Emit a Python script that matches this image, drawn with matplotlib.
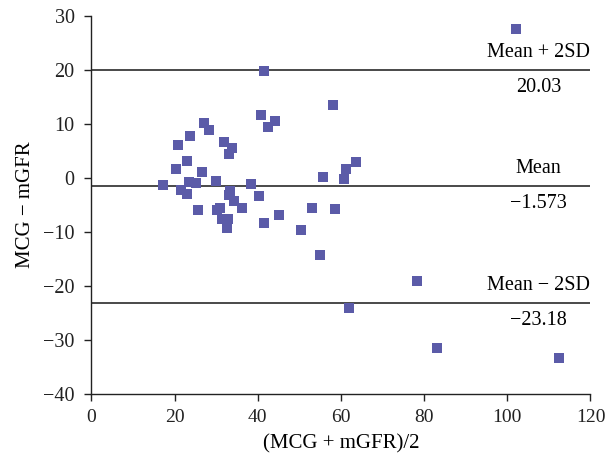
import matplotlib
matplotlib.use("Agg")
import matplotlib.pyplot as plt

mean_vals = [102.1, 41.6, 58.1, 40.9, 44.2, 42.5, 27.0, 28.2, 23.6, 20.8,
             31.8, 33.7, 33.0, 22.9, 63.6, 61.3, 20.3, 26.5, 55.7, 60.7,
             17.2, 23.4, 25.1, 29.9, 38.5, 21.5, 22.9, 33.4, 33.1, 40.4,
             34.4, 36.3, 25.6, 30.1, 30.9, 53.1, 58.6, 45.2, 31.5, 32.9,
             32.7, 41.6, 50.4, 55.0, 78.2, 62.0, 83.0, 112.4]
diff_vals = [27.5, 19.7, 13.4, 11.6, 10.5, 9.4, 10.1, 8.8, 7.7, 6.0,
             6.6, 5.6, 4.5, 3.2, 3.0, 1.7, 1.6, 1.0, 0.1, -0.3,
             -1.4, -0.8, -1.0, -0.6, -1.2, -2.3, -2.9, -2.4, -3.1, -3.3,
             -4.3, -5.5, -5.9, -5.9, -5.5, -5.5, -5.7, -6.8, -7.6, -7.6,
             -9.2, -8.4, -9.7, -14.2, -19.1, -24.0, -31.4, -33.3]

line_values = [20.03, -1.573, -23.18]
line_names = ["Mean + 2SD", "Mean", "Mean \u2212 2SD"]
line_value_texts = ["20.03", "\u22121.573", "\u221223.18"]

x_ticks = [0, 20, 40, 60, 80, 100, 120]
y_ticks = [-40, -30, -20, -10, 0, 10, 20, 30]

plt.rcParams['font.family'] = ['Liberation Serif', 'DejaVu Serif']

fig = plt.figure(figsize=(6.05, 4.63), dpi=100)
ax = fig.add_axes([0.151, 0.149, 0.825, 0.817])

for v in line_values:
    ax.axhline(v, color='#3a3a3a', lw=1.3, zorder=1)

ax.scatter(mean_vals, diff_vals, marker='s', s=60, color='#5b5ba8',
           linewidths=0, zorder=3)

for v, name, vt in zip(line_values, line_names, line_value_texts):
    ax.text(107.5, v + 1.5, name, ha='center', va='bottom', fontsize=14.5)
    ax.text(107.5, v - 1.5, vt, ha='center', va='top', fontsize=14.5)

ax.set_xlim(0, 120)
ax.set_ylim(-40, 30)
ax.set_xticks(x_ticks)
ax.set_yticks(y_ticks)
ax.set_yticklabels([str(t).replace('-', '\u2212') for t in y_ticks])
ax.tick_params(direction='out', length=5, width=1, labelsize=14, colors='#222222')
ax.tick_params(axis='y', pad=7, labelsize=14.5)
ax.tick_params(axis='x', pad=6)
for s in ['top', 'right']:
    ax.spines[s].set_visible(False)
for s in ['left', 'bottom']:
    ax.spines[s].set_linewidth(1.0)
    ax.spines[s].set_color('#222222')

ax.set_xlabel("(MCG + mGFR)/2", fontsize=15, labelpad=6)
ax.set_ylabel("MCG \u2212 mGFR", fontsize=15, labelpad=6)

fig.savefig("out.png", dpi=100)
